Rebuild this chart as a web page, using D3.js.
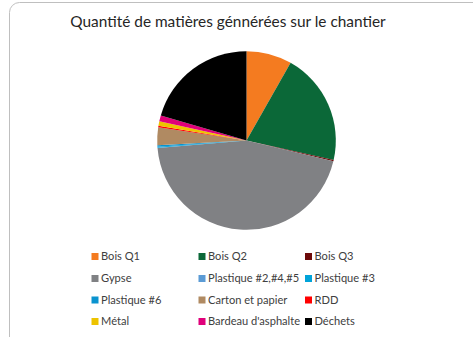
<!DOCTYPE html>
<html>
<head>
<meta charset="utf-8">
<script src="https://cdn.jsdelivr.net/npm/d3@7"></script>
<style>
  html, body { margin: 0; padding: 0; background: #fff; }
  svg { display: block; }
</style>
</head>
<body>
<svg id="chart" width="473" height="337"></svg>
<script>
// Matières générées, en pourcentage du total
const categories = [
  "Bois Q1", "Bois Q2", "Bois Q3", "Gypse",
  "Plastique #2,#4,#5", "Plastique #3", "Plastique #6", "Carton et papier",
  "RDD", "Métal", "Bardeau d'asphalte", "Déchets"
];
const values = [8.2, 20.2, 0.25, 44.8, 0.05, 0.15, 0.3, 3.2, 0.25, 0.8, 1.1, 20.4];
const colors = [
  "#F47B20", "#0B6838", "#6D0A0A", "#808184",
  "#5B9BD5", "#00A3D9", "#0A93CF", "#B08A62",
  "#FF0000", "#EDC300", "#E0007A", "#000000"
];
const title = "Quantité de matières génnérées sur le chantier";

const svg = d3.select("#chart");
const W = 473, H = 337;

// Cadre arrondi du graphique
svg.append("rect")
  .attr("x", 9.5).attr("y", 2.5)
  .attr("width", W + 20).attr("height", H + 20)
  .attr("rx", 10).attr("ry", 10)
  .attr("fill", "#fff")
  .attr("stroke", "#BFBFBF")
  .attr("stroke-width", 1);

// Titre
svg.append("text")
  .attr("x", 228).attr("y", 26.5)
  .attr("text-anchor", "middle")
  .attr("font-family", "Lato, 'Open Sans', sans-serif")
  .attr("font-size", 15.4)
  .attr("fill", "#262626")
  .text(title);

// Secteurs
const cx = 246.5, cy = 140.5, r = 89.3;
const pie = d3.pie().sort(null).value(d => d.value);
const arc = d3.arc().innerRadius(0).outerRadius(r);
const data = categories.map((c, i) => ({ name: c, value: values[i], color: colors[i] }));

svg.append("g")
  .attr("transform", `translate(${cx},${cy})`)
  .selectAll("path")
  .data(pie(data))
  .join("path")
  .attr("d", arc)
  .attr("fill", d => d.data.color);

// Légende sur trois colonnes
const colX = [91.5, 198.5, 305];
const rowY = [256.5, 278.5, 300, 321.5];
const sw = 7;
const leg = svg.append("g")
  .attr("font-family", "Lato, 'Open Sans', sans-serif")
  .attr("font-size", 11.1)
  .attr("fill", "#404040");
data.forEach((d, i) => {
  const x = colX[i % 3], y = rowY[Math.floor(i / 3)];
  leg.append("rect")
    .attr("x", x).attr("y", y - sw / 2)
    .attr("width", sw).attr("height", sw)
    .attr("fill", d.color);
  leg.append("text")
    .attr("x", x + 9.5).attr("y", y)
    .attr("dy", "0.36em")
    .text(d.name);
});
</script>
</body>
</html>
